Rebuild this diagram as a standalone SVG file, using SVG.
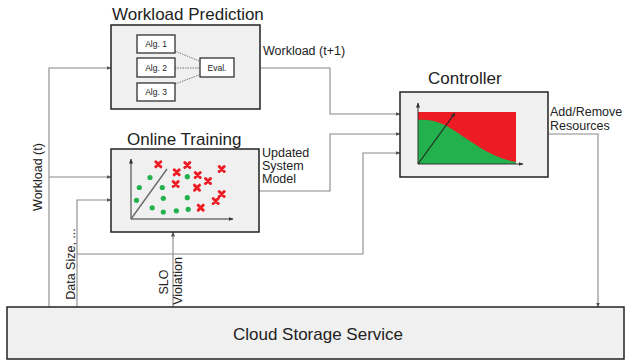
<svg xmlns="http://www.w3.org/2000/svg" width="626" height="362" viewBox="0 0 626 362">
<defs>
<marker id="arr" markerWidth="5" markerHeight="5" refX="4.5" refY="2.5" orient="auto" markerUnits="userSpaceOnUse">
<path d="M0,0.5 L5,2.5 L0,4.5 z" fill="#555"/>
</marker>
<marker id="arrk" markerWidth="5" markerHeight="5" refX="4.5" refY="2.5" orient="auto" markerUnits="userSpaceOnUse">
<path d="M0,0.5 L5,2.5 L0,4.5 z" fill="#333"/>
</marker>
<g id="xm"><path d="M-2.5,-2.5 L2.5,2.5 M-2.5,2.5 L2.5,-2.5" stroke="#ED1C24" stroke-width="3" stroke-linecap="round"/></g>
<circle id="gd" r="2.6" fill="#22B14C"/>
</defs>
<style>
.box{fill:#F0F0F0;stroke:#222;stroke-width:1.5}
.wbox{fill:#fff;stroke:#222;stroke-width:1.2}
.conn{fill:none;stroke:#888;stroke-width:1.1}
.dot{fill:none;stroke:#777;stroke-width:1;stroke-dasharray:1.5 1}
.axis{fill:none;stroke:#333;stroke-width:1}
.title{font-family:"Liberation Sans",Arial,sans-serif;font-size:17px;fill:#222}
.lbl{font-family:"Liberation Sans",Arial,sans-serif;font-size:12.5px;fill:#222}
.small{font-family:"Liberation Sans",Arial,sans-serif;font-size:8.5px;fill:#222}
</style>
<rect width="626" height="362" fill="#fff"/>

<g id="connectors">
<path class="conn" d="M49,307 L49,68 L111,68" marker-end="url(#arr)"/>
<path class="conn" d="M49,177 L111,177" marker-end="url(#arr)"/>
<path class="conn" d="M77,307 L77,200 L111,200" marker-end="url(#arr)"/>
<path class="conn" d="M77,254 L363,254 L363,153 L400,153" marker-end="url(#arr)"/>
<path class="conn" d="M173,307 L173,232" marker-end="url(#arr)"/>
<path class="conn" d="M260,68 L330,68 L330,114 L400,114" marker-end="url(#arr)"/>
<path class="conn" d="M259,191 L330,191 L330,134 L400,134" marker-end="url(#arr)"/>
<path class="conn" d="M548,134 L598,134 L598,307" marker-end="url(#arr)"/>
</g>

<g id="workload-prediction">
<text class="title" x="112" y="20">Workload Prediction</text>
<rect class="box" x="111" y="25" width="149" height="84"/>
<path class="dot" d="M175,51 L199,61"/>
<path class="dot" d="M175,68 L199,68"/>
<path class="dot" d="M175,84 L199,75"/>
<g id="alg1"><rect class="wbox" x="137" y="35" width="38" height="18"/><text class="small" x="156" y="47" text-anchor="middle">Alg. 1</text></g>
<g id="alg2"><rect class="wbox" x="137" y="58" width="38" height="19"/><text class="small" x="156" y="70.5" text-anchor="middle">Alg. 2</text></g>
<g id="alg3"><rect class="wbox" x="137" y="83" width="38" height="18"/><text class="small" x="156" y="95" text-anchor="middle">Alg. 3</text></g>
<g id="eval"><rect class="wbox" x="200" y="58" width="34" height="19"/><text class="small" x="217" y="70.5" text-anchor="middle">Eval.</text></g>
</g>

<g id="online-training">
<text class="title" x="127" y="145">Online Training</text>
<rect class="box" x="111" y="149" width="148" height="83"/>
<path class="axis" d="M131,219 L131,159" marker-end="url(#arrk)"/>
<path class="axis" d="M131,219 L233,219" marker-end="url(#arrk)"/>
<path d="M131,219 L167,169" stroke="#666" stroke-width="1.3" fill="none"/>
<use href="#gd" x="150" y="177.5"/>
<use href="#gd" x="139.3" y="187.5"/>
<use href="#gd" x="162.3" y="187.5"/>
<use href="#gd" x="187.3" y="176.7"/>
<use href="#gd" x="136.5" y="200.3"/>
<use href="#gd" x="163.3" y="198.3"/>
<use href="#gd" x="187.3" y="197.7"/>
<use href="#gd" x="152.2" y="207.8"/>
<use href="#gd" x="163.3" y="212"/>
<use href="#gd" x="176.3" y="210.8"/>
<use href="#gd" x="188.2" y="209.3"/>
<use href="#xm" x="158.3" y="164.3"/>
<use href="#xm" x="187.3" y="165"/>
<use href="#xm" x="176.7" y="172.3"/>
<use href="#xm" x="197.7" y="175"/>
<use href="#xm" x="221.7" y="169"/>
<use href="#xm" x="208" y="181"/>
<use href="#xm" x="175.7" y="184"/>
<use href="#xm" x="197" y="187.7"/>
<use href="#xm" x="221.7" y="194"/>
<use href="#xm" x="215.7" y="201"/>
<use href="#xm" x="200.7" y="207.7"/>
</g>

<g id="controller">
<text class="title" x="428" y="84">Controller</text>
<rect class="box" x="400" y="92" width="148" height="85"/>
<rect x="418" y="112" width="98" height="52" fill="#ED1C24"/>
<path d="M418,164 L418,120 C432,119 441,122 455,131 C475,144 492,158 516,162 L516,164 Z" fill="#22B14C"/>
<path class="axis" d="M418,164 L418,103" marker-end="url(#arrk)"/>
<path class="axis" d="M418,164 L523,164" marker-end="url(#arrk)"/>
<path d="M418,164 L455,113" stroke="#222" stroke-width="1.1" fill="none" marker-end="url(#arrk)"/>
</g>

<g id="cloud-storage">
<rect class="box" x="7" y="307" width="617" height="52"/>
<text class="title" x="318" y="340" text-anchor="middle">Cloud Storage Service</text>
</g>

<g id="labels">
<text class="lbl" x="263" y="55">Workload (t+1)</text>
<text class="lbl" x="262" y="157">Updated</text>
<text class="lbl" x="262" y="170">System</text>
<text class="lbl" x="262" y="183">Model</text>
<text class="lbl" x="550" y="116">Add/Remove</text>
<text class="lbl" x="550" y="130">Resources</text>
<text class="lbl" transform="translate(42,177) rotate(-90)" text-anchor="middle">Workload (t)</text>
<text class="lbl" transform="translate(75,264) rotate(-90)" text-anchor="middle">Data Size, ...</text>
<text class="lbl" transform="translate(168,282) rotate(-90)" text-anchor="middle">SLO</text>
<text class="lbl" transform="translate(182,281) rotate(-90)" text-anchor="middle">Violation</text>
</g>
</svg>
